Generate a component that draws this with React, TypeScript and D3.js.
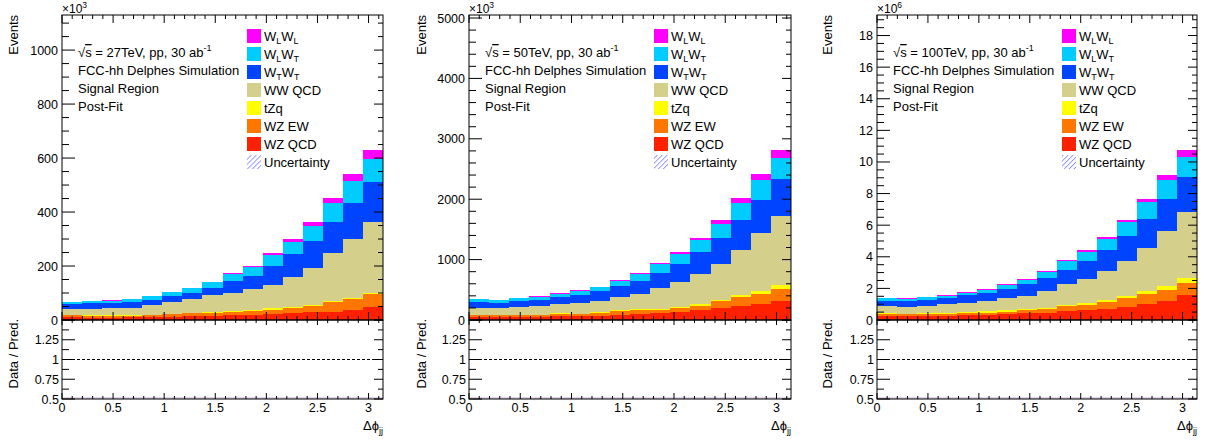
import React, { useEffect, useRef } from "react";
import * as d3 from "d3";

// stack order, bottom to top
const KEYS = ["wzqcd", "wzew", "tzq", "wwqcd", "wtwt", "wlwt", "wlwl"];

const COLORS: Record<string, string> = {
  wlwl: "#ff00ff",
  wlwt: "#00ccff",
  wtwt: "#0044ff",
  wwqcd: "#d4cf8a",
  tzq: "#ffff00",
  wzew: "#ff7700",
  wzqcd: "#ff2000",
};

const NBINS = 16;

// sqrt(s) = 27 TeV, events x10^3
const wzqcd27 = [10, 9, 9, 10, 10, 12, 15, 16, 18, 20, 23, 25, 28, 31, 37, 49];
const wzew27 = [7, 7, 7, 6, 7, 9, 10, 11, 10, 13, 15, 19, 25, 34, 40, 46];
const tzq27 = [1, 1, 1, 1, 1, 1, 2, 3, 4, 4, 5, 5, 4, 5, 4, 5];
const wwqcd27 = [22, 24, 26, 29, 38, 43, 50, 61, 69, 77, 88, 109, 137, 177, 220, 264];
const wtwt27 = [19, 21, 20, 19, 18, 24, 22, 29, 45, 50, 69, 86, 97, 116, 134, 147];
const wlwt27 = [7, 7, 9, 11, 14, 14, 19, 19, 24, 31, 40, 46, 57, 69, 79, 85];
const wlwl27 = [2, 2, 2, 2, 2, 2, 2, 3, 3, 5, 7, 10, 16, 19, 28, 34];

// sqrt(s) = 50 TeV, events x10^3
const wzqcd50 = [55, 50, 55, 55, 61, 66, 66, 83, 94, 116, 127, 166, 199, 237, 265, 320];
const wzew50 = [28, 27, 28, 28, 33, 28, 44, 60, 66, 55, 72, 71, 110, 138, 165, 193];
const tzq50 = [5, 5, 5, 5, 16, 11, 17, 17, 17, 17, 22, 28, 22, 33, 56, 66];
const wwqcd50 = [105, 111, 122, 138, 155, 182, 188, 215, 253, 336, 403, 497, 596, 751, 949, 1143];
const wtwt50 = [99, 88, 105, 105, 110, 121, 160, 188, 216, 260, 309, 369, 425, 497, 552, 607];
const wlwt50 = [48, 42, 47, 53, 63, 74, 67, 87, 116, 137, 165, 193, 237, 287, 336, 353];
const wlwl50 = [8, 8, 8, 8, 9, 9, 10, 12, 11, 17, 28, 28, 61, 71, 100, 127];

// sqrt(s) = 100 TeV, events x10^6
const wzqcd100 = [0.27, 0.25, 0.25, 0.27, 0.32, 0.34, 0.38, 0.42, 0.46, 0.59, 0.61, 0.7, 0.82, 1.01, 1.2, 1.56];
const wzew100 = [0.11, 0.11, 0.13, 0.11, 0.12, 0.12, 0.15, 0.19, 0.22, 0.27, 0.34, 0.42, 0.55, 0.64, 0.7, 0.8];
const tzq100 = [0.04, 0.04, 0.04, 0.06, 0.07, 0.09, 0.08, 0.11, 0.1, 0.09, 0.1, 0.15, 0.17, 0.19, 0.25, 0.32];
const wwqcd100 = [0.47, 0.44, 0.49, 0.55, 0.59, 0.63, 0.76, 0.82, 1.06, 1.33, 1.54, 1.85, 2.22, 2.74, 3.5, 4.16];
const wtwt100 = [0.33, 0.34, 0.36, 0.4, 0.46, 0.53, 0.59, 0.72, 0.82, 0.88, 1.14, 1.31, 1.56, 1.81, 2.01, 2.21];
const wlwt100 = [0.16, 0.16, 0.18, 0.16, 0.18, 0.22, 0.26, 0.29, 0.39, 0.56, 0.6, 0.67, 0.86, 1.06, 1.22, 1.27];
const wlwl100 = [0.03, 0.03, 0.03, 0.03, 0.03, 0.03, 0.04, 0.04, 0.05, 0.06, 0.08, 0.13, 0.17, 0.21, 0.32, 0.42];

const X_TICK_LABELS = ["0", "0.5", "1", "1.5", "2", "2.5", "3"];
const RATIO_TICK_LABELS = ["0.5", "0.75", "1", "1.25"];

// legend rows, top to bottom: [key, main, sub, main, sub]
const LEGEND = [
  ["wlwl", "W", "L", "W", "L"],
  ["wlwt", "W", "L", "W", "T"],
  ["wtwt", "W", "T", "W", "T"],
  ["wwqcd", "WW QCD"],
  ["tzq", "tZq"],
  ["wzew", "WZ EW"],
  ["wzqcd", "WZ QCD"],
  ["unc", "Uncertainty"],
];

const PANELS = [
  {
    energy: "27", exp: "3", yMax: 1130, major: 200, minor: 50,
    x0: 62, x1: 383, titleX: 18,
    series: { wzqcd: wzqcd27, wzew: wzew27, tzq: tzq27, wwqcd: wwqcd27, wtwt: wtwt27, wlwt: wlwt27, wlwl: wlwl27 },
  },
  {
    energy: "50", exp: "3", yMax: 5050, major: 1000, minor: 200,
    x0: 469, x1: 791, titleX: 426,
    series: { wzqcd: wzqcd50, wzew: wzew50, tzq: tzq50, wwqcd: wwqcd50, wtwt: wtwt50, wlwt: wlwt50, wlwl: wlwl50 },
  },
  {
    energy: "100", exp: "6", yMax: 19.3, major: 2, minor: 0.5,
    x0: 877, x1: 1197, titleX: 832,
    series: { wzqcd: wzqcd100, wzew: wzew100, tzq: tzq100, wwqcd: wwqcd100, wtwt: wtwt100, wlwt: wlwt100, wlwl: wlwl100 },
  },
];

const TOP = 15;
const MID = 320;
const BOTTOM = 399;
const FS = 13;

function Panel({ cfg }: { cfg: any }) {
  const gRef = useRef<SVGGElement>(null);

  useEffect(() => {
    const g = d3.select(gRef.current);
    g.selectAll("*").remove();
    const { x0, x1 } = cfg;

    // scales
    const xScale = d3.scaleLinear().domain([0, Math.PI]).range([x0, x1]);
    const yScale = d3.scaleLinear().domain([0, cfg.yMax]).range([MID, TOP]);
    const rScale = d3.scaleLinear().domain([0.5, 1.5]).range([BOTTOM, MID]);
    const edge = (i: number) => xScale((i * Math.PI) / NBINS);

    const rows = d3.range(NBINS).map((i) => {
      const r: any = { bin: i };
      KEYS.forEach((k) => (r[k] = cfg.series[k][i]));
      return r;
    });
    const layers = d3.stack().keys(KEYS).order(d3.stackOrderNone)(rows);

    // stacked histogram
    g.append("g")
      .selectAll("g")
      .data(layers)
      .join("g")
      .attr("fill", (l: any) => COLORS[l.key])
      .selectAll("rect")
      .data((l: any) => l)
      .join("rect")
      .attr("x", (d: any) => edge(d.data.bin))
      .attr("width", (d: any) => edge(d.data.bin + 1) - edge(d.data.bin))
      .attr("y", (d: any) => yScale(d[1]))
      .attr("height", (d: any) => yScale(d[0]) - yScale(d[1]))
      .attr("shape-rendering", "crispEdges");

    // ratio pad: nominal line
    g.append("line")
      .attr("x1", x0).attr("x2", x1)
      .attr("y1", rScale(1)).attr("y2", rScale(1))
      .attr("stroke", "#000").attr("stroke-dasharray", "3,2");
    g.append("line")
      .attr("x1", x0).attr("x2", x1)
      .attr("y1", BOTTOM - 1).attr("y2", BOTTOM - 1)
      .attr("stroke", "#c9a6d6");

    const ticks = g.append("g").attr("stroke", "#000").attr("stroke-width", 1);
    const vline = (x: number, ya: number, yb: number) =>
      ticks.append("line").attr("x1", x).attr("x2", x).attr("y1", ya).attr("y2", yb);
    const hline = (y: number, xa: number, xb: number) =>
      ticks.append("line").attr("x1", xa).attr("x2", xb).attr("y1", y).attr("y2", y);

    // x ticks, every 0.1
    d3.range(32).forEach((i) => {
      const x = xScale(i / 10);
      const maj = i % 5 === 0;
      vline(x, MID, MID - (maj ? 8 : 4));
      vline(x, TOP, TOP + (maj ? 8 : 4));
      vline(x, BOTTOM, BOTTOM - (maj ? 6 : 3));
      vline(x, MID, MID + (maj ? 5 : 3));
    });

    // y ticks, top pad
    const nMinor = Math.floor(cfg.yMax / cfg.minor + 1e-9);
    const per = Math.round(cfg.major / cfg.minor);
    d3.range(nMinor + 1).forEach((i) => {
      const y = yScale(i * cfg.minor);
      const maj = i % per === 0;
      hline(y, x0, x0 + (maj ? 13 : 7));
      hline(y, x1, x1 - (maj ? 9 : 5));
    });

    // y ticks, ratio pad
    d3.range(9).forEach((i) => {
      const y = rScale(0.5 + i * 0.125);
      const maj = i % 2 === 0;
      hline(y, x0, x0 + (maj ? 13 : 7));
      hline(y, x1, x1 - (maj ? 9 : 5));
    });

    // frames
    g.append("rect")
      .attr("x", x0).attr("y", TOP).attr("width", x1 - x0).attr("height", MID - TOP)
      .attr("fill", "none").attr("stroke", "#000");
    g.append("rect")
      .attr("x", x0).attr("y", MID).attr("width", x1 - x0).attr("height", BOTTOM - MID)
      .attr("fill", "none").attr("stroke", "#000");

    const labels = g.append("g").attr("fill", "#000").attr("font-size", 12.5);

    // y labels
    d3.range(Math.floor(cfg.yMax / cfg.major + 1e-9) + 1).forEach((i) => {
      labels.append("text")
        .attr("x", x0 - 4).attr("y", yScale(i * cfg.major)).attr("dy", "0.36em")
        .attr("text-anchor", "end")
        .text(String(+(i * cfg.major).toFixed(3)));
    });
    RATIO_TICK_LABELS.forEach((t) => {
      labels.append("text")
        .attr("x", x0 - 3).attr("y", rScale(+t)).attr("dy", "0.36em")
        .attr("text-anchor", "end").text(t);
    });
    X_TICK_LABELS.forEach((t) => {
      labels.append("text")
        .attr("x", xScale(+t)).attr("y", 412)
        .attr("text-anchor", "middle").text(t);
    });

    // exponent
    const ex = labels.append("text").attr("x", x0).attr("y", 13).attr("font-size", 12);
    ex.append("tspan").text("\u00d710");
    ex.append("tspan").attr("font-size", 8.5).attr("dy", -5).text(cfg.exp);

    // axis titles
    labels.append("text")
      .attr("transform", `translate(${cfg.titleX},${TOP}) rotate(-90)`)
      .attr("text-anchor", "end").attr("font-size", FS).text("Events");
    labels.append("text")
      .attr("transform", `translate(${cfg.titleX},${MID - 1}) rotate(-90)`)
      .attr("text-anchor", "end").attr("font-size", FS).text("Data / Pred.");
    const xt = labels.append("text")
      .attr("x", x1).attr("y", 430).attr("text-anchor", "end").attr("font-size", FS)
      .attr("fill", "#000");
    xt.append("tspan").attr("fill", "#000").text("\u0394\u03d5");
    xt.append("tspan").attr("fill", "#000").attr("font-size", 9).attr("dy", 4).text("jj");

    // info text
    const info = g.append("g").attr("font-size", FS).attr("fill", "#000");
    const t0 = info.append("text").attr("x", x0 + 16).attr("y", 57);
    t0.append("tspan").text("\u221a");
    t0.append("tspan").style("text-decoration", "overline").text("s");
    t0.append("tspan").text(` = ${cfg.energy}TeV, pp, 30 ab`);
    t0.append("tspan").attr("font-size", 9).attr("dy", -6).text("-1");
    ["FCC-hh Delphes Simulation", "Signal Region", "Post-Fit"].forEach((s, i) => {
      info.append("text").attr("x", x0 + 16).attr("y", 75 + 18 * i).text(s);
    });

    // legend
    const leg = g.append("g").attr("font-size", FS).attr("fill", "#000");
    LEGEND.forEach((row, i) => {
      const cy = 36 + 18 * i;
      leg.append("rect")
        .attr("x", x0 + 185).attr("y", cy - 7).attr("width", 14).attr("height", 14)
        .attr("fill", row[0] === "unc" ? "url(#hatch)" : COLORS[row[0]]);
      const t = leg.append("text").attr("x", x0 + 202).attr("y", cy + 5);
      if (row.length === 5) {
        t.append("tspan").text(row[1]);
        t.append("tspan").attr("font-size", 9).attr("dy", 3).text(row[2]);
        t.append("tspan").attr("dy", -3).text(row[3]);
        t.append("tspan").attr("font-size", 9).attr("dy", 3).text(row[4]);
      } else {
        t.text(row[1]);
      }
    });
  }, [cfg]);

  return <g ref={gRef} />;
}

export default function App() {
  return (
    <svg
      width={1205}
      height={444}
      style={{ position: "absolute", left: 0, top: 0, background: "#fff" }}
      fontFamily="'Liberation Sans', Arial, Helvetica, sans-serif"
    >
      <defs>
        <pattern id="hatch" width="3.5" height="3.5" patternUnits="userSpaceOnUse" patternTransform="rotate(45)">
          <line x1="0" y1="0" x2="0" y2="3.5" stroke="#5b5bff" strokeWidth="1.2" />
        </pattern>
      </defs>
      <rect width={1205} height={444} fill="#fff" />
      {PANELS.map((p) => (
        <Panel key={p.energy} cfg={p} />
      ))}
    </svg>
  );
}
